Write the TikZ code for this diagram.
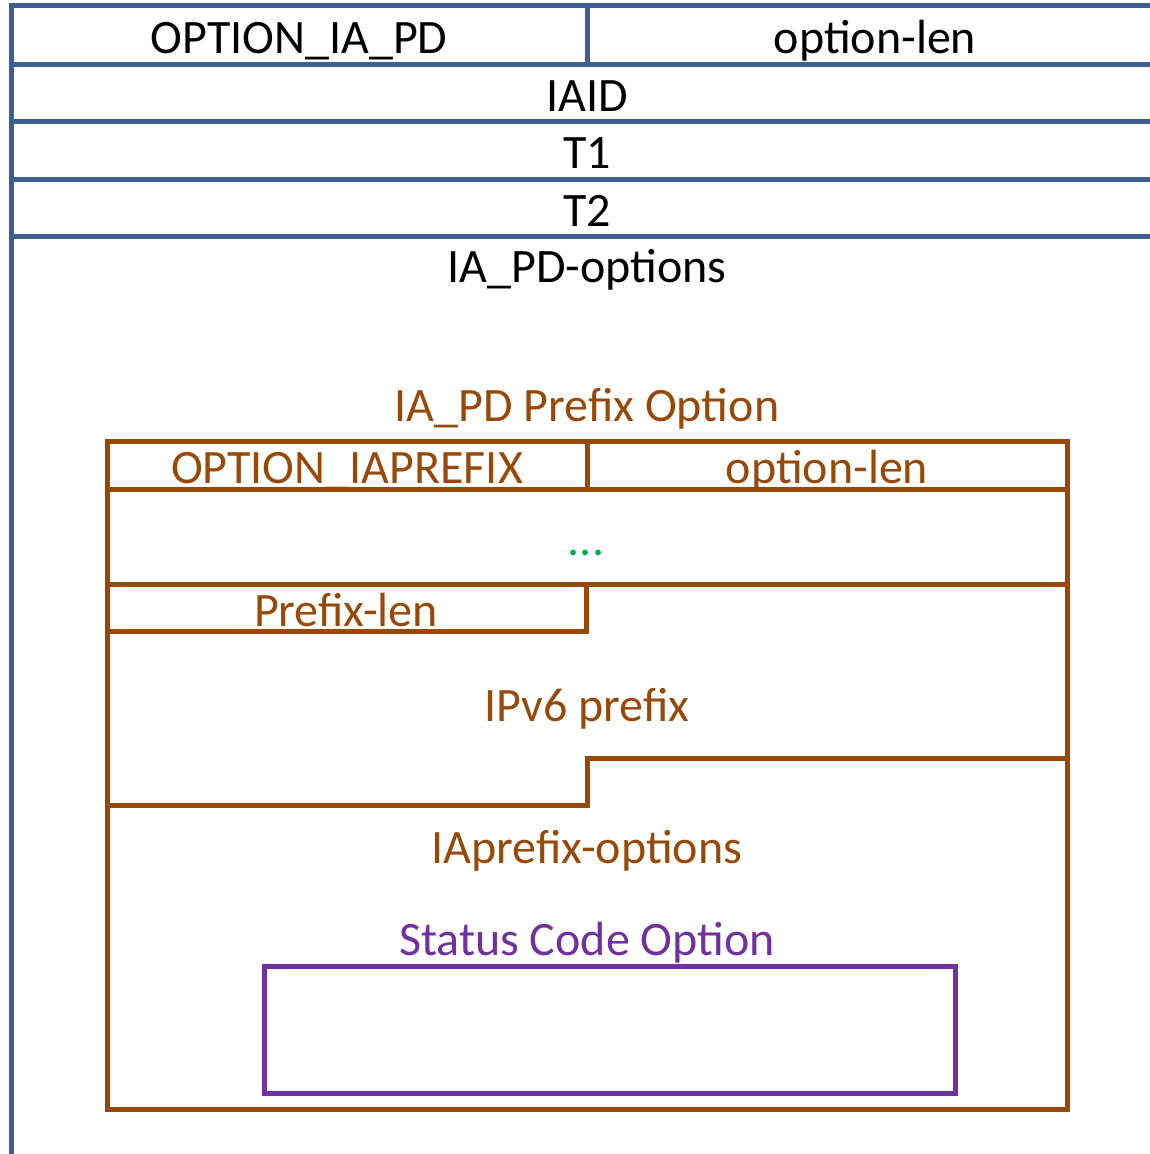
\documentclass[tikz,border=0pt]{standalone}
\usepackage{fontspec}
\setmainfont{Carlito}
\definecolor{hdrblue}{RGB}{61,97,143}
\definecolor{pfxbrown}{HTML}{984807}
\definecolor{stpurple}{HTML}{7030A0}
\definecolor{dotgreen}{HTML}{00B050}
\tikzset{
  lbl/.style={anchor=base, inner sep=0pt, font=\fontsize{48}{52}\selectfont},
  bluelbl/.style={lbl, text=black},
  brownlbl/.style={lbl, text=pfxbrown},
  purplelbl/.style={lbl, text=stpurple},
  blueline/.style={draw=hdrblue, line width=5pt},
  brownline/.style={draw=pfxbrown, line width=5pt, line join=miter},
  purpleline/.style={draw=stpurple, line width=5pt},
}
\begin{document}
\begin{tikzpicture}[x=1pt,y=-1pt]
\useasboundingbox (0,0) rectangle (1149,1154);
% ---- labels (drawn first, lines on top)
\node[bluelbl] (optiapd) at (299,53.5) {OPTION\_IA\_PD};
\node[bluelbl] (optlen) at (875,53.5) {option-len};
\node[bluelbl] (iaid) at (587,111.5) {IAID};
\node[bluelbl] (tone) at (587,168.5) {T1};
\node[bluelbl] (ttwo) at (587,226.5) {T2};
\node[bluelbl] (iapdopts) at (587,282) {IA\_PD-options};
\node[brownlbl] (pfxopt) at (587,421.5) {IA\_PD Prefix Option};
\node[brownlbl] (optiapfx) at (347,483) {OPTION\_IAPREFIX};
\node[brownlbl] (optlenb) at (827,483) {option-len};
\node[lbl, text=dotgreen] (dots) at (586,555.5) {...};
\node[brownlbl] (pfxlen) at (346,626) {Prefix-len};
\node[brownlbl] (ipv6) at (587,721.5) {IPv6 prefix};
\node[brownlbl] (iapfxopts) at (587,863) {IAprefix-options};
\node[purplelbl] (stcode) at (587,955) {Status Code Option};
% ---- blue header table
\draw[blueline] (11,5.5) -- (1160,5.5);
\draw[blueline] (11,64) -- (1160,64);
\draw[blueline] (11,121.5) -- (1160,121.5);
\draw[blueline] (11,179) -- (1160,179);
\draw[blueline] (11,236.5) -- (1160,236.5);
\draw[blueline] (11,3) -- (11,1160);
\draw[blueline] (587,5.5) -- (587,64);
% ---- brown prefix option
\draw[brownline] (107,441) rectangle (1067,1109.5);
\draw[brownline] (107,489) -- (1067,489);
\draw[brownline] (587,441) -- (587,489);
\draw[brownline] (107,584) -- (1067,584);
\draw[brownline] (107,584) rectangle (586,631);
\draw[brownline] (107,805) -- (587,805) -- (587,758) -- (1067,758);
% ---- purple status code option
\draw[purpleline] (264,966) rectangle (955,1093);
\end{tikzpicture}
\end{document}
